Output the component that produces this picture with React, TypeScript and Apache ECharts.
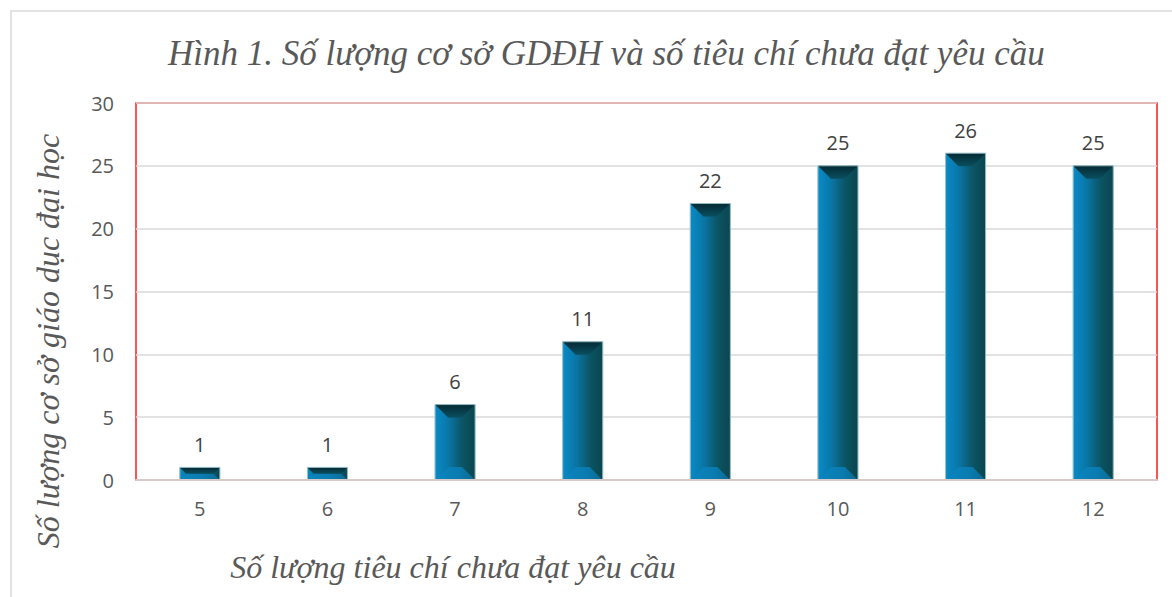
import React, { useEffect, useRef } from "react";
import * as echarts from "echarts";

const categories = ["5", "6", "7", "8", "9", "10", "11", "12"];
const values = [1, 1, 6, 11, 22, 25, 26, 25];
const titleText = "Hình 1. Số lượng cơ sở GDĐH và số tiêu chí chưa đạt yêu cầu";
const yName = "Số lượng cơ sở giáo dục đại học";
const xName = "Số lượng tiêu chí chưa đạt yêu cầu";

const SERIF = "'Liberation Serif', 'DejaVu Serif', serif";
const SANS = "'Open Sans', 'Noto Sans', sans-serif";

function renderBar(params: any, api: any) {
  const cat = api.value(0);
  const val = api.value(1);
  const top = api.coord([cat, val]);
  const base = api.coord([cat, 0]);
  const w = 40;
  const x = top[0] - w / 2;
  const y = top[1];
  const h = base[1] - top[1];
  const b = Math.min(13, h / 2, w / 2);
  const lg = (x0: number, y0: number, x1: number, y1: number, stops: [number, string][]) =>
    new echarts.graphic.LinearGradient(x0, y0, x1, y1, stops.map(([o, c]) => ({ offset: o, color: c })));
  return {
    type: "group",
    children: [
      {
        type: "rect",
        shape: { x, y, width: w, height: h },
        style: { fill: lg(0, 0, 1, 0, [[0, "#0a7fb6"], [0.5, "#0a6386"], [1, "#0b4d5a"]]), stroke: "#9cc4cc", lineWidth: 1 },
      },
      {
        type: "polygon",
        shape: { points: [[x, y], [x + b, y + b], [x + b, y + h - b], [x, y + h]] },
        style: { fill: lg(0, 0, 1, 0, [[0, "#0a8ac6"], [1, "#0977a8"]]) },
      },
      {
        type: "polygon",
        shape: { points: [[x + w, y], [x + w - b, y + b], [x + w - b, y + h - b], [x + w, y + h]] },
        style: { fill: lg(0, 0, 1, 0, [[0, "#0b5563"], [1, "#0a454f"]]) },
      },
      {
        type: "rect",
        shape: { x: x + b, y: y + b, width: Math.max(0, w - 2 * b), height: Math.max(0, h - 2 * b) },
        style: { fill: lg(0, 0, 1, 0, [[0, "#0a78a8"], [0.6, "#0b6280"], [1, "#0b5566"]]) },
      },
      {
        type: "polygon",
        shape: { points: [[x, y + h], [x + w, y + h], [x + w - b, y + h - b], [x + b, y + h - b]] },
        style: { fill: lg(0, 0, 1, 0, [[0, "#0a86c0"], [0.6, "#0a7bb0"], [1, "#0a6a90"]]) },
      },
      {
        type: "polygon",
        shape: { points: [[x, y], [x + w, y], [x + w - b, y + b], [x + b, y + b]] },
        style: { fill: lg(0, 0, 0, 1, [[0, "#042a33"], [1, "#0a4f60"]]) },
      },
      {
        type: "polygon",
        shape: { points: [[x, y], [x + w, y], [x + w, y + h], [x, y + h]] },
        style: { fill: "none", stroke: "#a7ccd4", lineWidth: 0.8 },
      },
      {
        type: "text",
        x: top[0],
        y: y - 13,
        style: {
          text: String(val),
          fill: "#404040",
          font: `20px ${SANS}`,
          align: "center",
          verticalAlign: "bottom",
        },
      },
    ],
  };
}

export default function App() {
  const ref = useRef<HTMLDivElement>(null);
  useEffect(() => {
    if (!ref.current) return;
    const chart = echarts.init(ref.current, undefined, { renderer: "svg" });
    chart.setOption({
      animation: false,
      backgroundColor: "#ffffff",
      title: {
        text: titleText,
        left: 163,
        top: 31,
        textStyle: { fontFamily: SERIF, fontStyle: "italic", fontWeight: "normal", fontSize: 35, color: "#595959" },
      },
      graphic: [
        {
          type: "rect",
          shape: { x: 11, y: 11, width: 1300, height: 800 },
          style: { fill: "none", stroke: "#d9d9d9", lineWidth: 1.5 },
          z: -1,
        },
        {
          type: "text",
          x: 48,
          y: 341,
          rotation: Math.PI / 2,
          style: {
            text: yName,
            font: `italic 32px ${SERIF}`,
            fill: "#595959",
            align: "center",
            verticalAlign: "middle",
          },
        },
        {
          type: "text",
          x: 453,
          y: 567,
          style: {
            text: xName,
            font: `italic 32px ${SERIF}`,
            fill: "#595959",
            align: "center",
            verticalAlign: "middle",
          },
        },
      ],
      grid: {
        left: 136,
        right: 15,
        top: 103,
        bottom: 117,
        show: true,
        borderColor: "#ff1a1a",
        borderWidth: 1.5,
        containLabel: false,
      },
      xAxis: {
        type: "category",
        data: categories,
        z: 4,
        axisLine: { lineStyle: { color: "#d8c9c9", width: 2 } },
        axisTick: { show: false },
        axisLabel: { color: "#595959", fontSize: 20, fontFamily: SANS, margin: 18 },
      },
      yAxis: {
        type: "value",
        min: 0,
        max: 30,
        interval: 5,
        axisLine: { show: false },
        axisTick: { show: false },
        splitLine: { lineStyle: { color: "#d9d9d9", width: 1.5 } },
        axisLabel: { color: "#595959", fontSize: 20, fontFamily: SANS, margin: 22 },
      },
      series: [
        {
          type: "custom",
          renderItem: renderBar,
          encode: { x: 0, y: 1 },
          data: categories.map((c, i) => [i, values[i]]),
          z: 3,
        },
      ],
    });
    return () => chart.dispose();
  }, []);
  return <div ref={ref} style={{ position: "absolute", left: 0, top: 0, width: 1172, height: 597 }} />;
}
